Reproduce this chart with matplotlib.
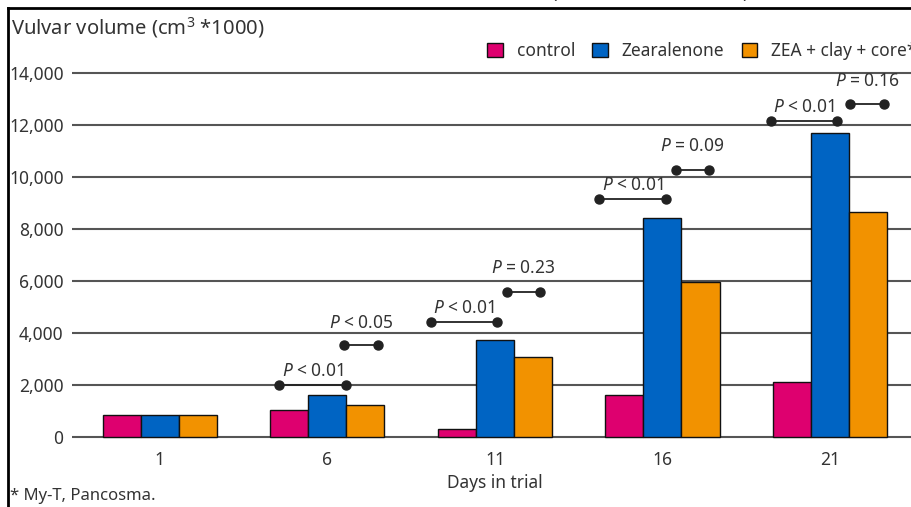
import matplotlib.pyplot as plt
from matplotlib.lines import Line2D
from matplotlib.ticker import FuncFormatter
import numpy as np

plt.rcParams['font.family'] = ['Noto Sans', 'DejaVu Sans']
plt.rcParams['mathtext.fontset'] = 'custom'
plt.rcParams['mathtext.rm'] = 'Noto Sans'
plt.rcParams['mathtext.it'] = 'Noto Sans:italic'

# Data
days = ['1', '6', '11', '16', '21']
control = [850, 1050, 320, 1600, 2100]
zearalenone = [850, 1600, 3730, 8420, 11690]
zea_clay = [850, 1250, 3080, 5960, 8650]

series_names = ['control', 'Zearalenone', 'ZEA + clay + core*']
colors = ['#DE006F', '#0064C3', '#F29200']

# significance brackets: (group, x start offset, x end offset, bracket y, label y, label)
brackets = [
    (1, -0.29, 0.11, 2000, 2550, '$P$ < 0.01'),
    (1, 0.10, 0.30, 3540, 4400, '$P$ < 0.05'),
    (2, -0.38, 0.01, 4420, 4980, '$P$ < 0.01'),
    (2, 0.07, 0.27, 5580, 6500, '$P$ = 0.23'),
    (3, -0.38, 0.02, 9150, 9700, '$P$ < 0.01'),
    (3, 0.08, 0.28, 10270, 11180, '$P$ = 0.09'),
    (4, -0.35, 0.04, 12150, 12700, '$P$ < 0.01'),
    (4, 0.12, 0.32, 12800, 13680, '$P$ = 0.16'),
]

txt = '#333333'
fig = plt.figure(figsize=(9.12, 5.07), dpi=100)
ax = fig.add_axes([0.0789, 0.1278, 0.9276, 0.7385])

x = np.arange(len(days))
w = 0.227
for i, (vals, name, c) in enumerate(zip([control, zearalenone, zea_clay], series_names, colors)):
    ax.bar(x + (i - 1) * w, vals, w, color=c, edgecolor='#111111', linewidth=1.0,
           label=name, zorder=3)

for g, x0, x1, yb, yt, lab in brackets:
    ax.plot([g + x0, g + x1], [yb, yb], color='#222222', lw=1.3, marker='o',
            markersize=6.5, zorder=4)
    ax.text(g + (x0 + x1) / 2, yt, lab, ha='center', va='center', fontsize=12.5, color=txt)

ax.set_xlim(-0.525, 4.525)
ax.set_ylim(-200, 14200)
ax.set_yticks(range(0, 14001, 2000))
ax.yaxis.set_major_formatter(FuncFormatter(lambda v, p: f'{int(v):,}'))
ax.set_xticks(x)
ax.set_xticklabels(days)
ax.tick_params(length=0, labelsize=12.5, labelcolor=txt)
ax.tick_params(axis='y', pad=6)
ax.tick_params(axis='x', pad=6)
ax.grid(axis='y', color='#555555', lw=1.5, zorder=1)
for s in ax.spines.values():
    s.set_visible(False)
ax.set_xlabel('Days in trial', fontsize=12.5, color=txt, labelpad=4)

fig.text(11 / 912, 1 - 28 / 507, 'Vulvar volume (cm$^3$ *1000)', fontsize=14.5, color=txt,
         ha='left', va='center')
fig.text(10 / 912, 1 - 496 / 507, '* My-T, Pancosma.', fontsize=12, color=txt,
         ha='left', va='center')
# bottoms of a title cut off above the frame
fig.text(551 / 912, 1 - 2 / 507, '(', fontsize=13, color=txt, ha='left', va='bottom')
fig.text(742 / 912, 1 - 2 / 507, ')', fontsize=13, color=txt, ha='left', va='bottom')

ax.legend(loc='center left', bbox_to_anchor=(487 / 912, 1 - 51 / 507),
          bbox_transform=fig.transFigure, ncol=3, frameon=False, fontsize=12.5,
          handlelength=0.9, handleheight=0.9, handletextpad=0.8, columnspacing=1.0,
          borderpad=0, borderaxespad=0, labelcolor=txt)

# outer frame
fig.add_artist(Line2D([8 / 912, 8 / 912], [0, 1 - 8 / 507], color='black', lw=2,
                      transform=fig.transFigure))
fig.add_artist(Line2D([8 / 912, 1], [1 - 8 / 507, 1 - 8 / 507], color='black', lw=2,
                      transform=fig.transFigure))

fig.savefig('out.png', dpi=100)
